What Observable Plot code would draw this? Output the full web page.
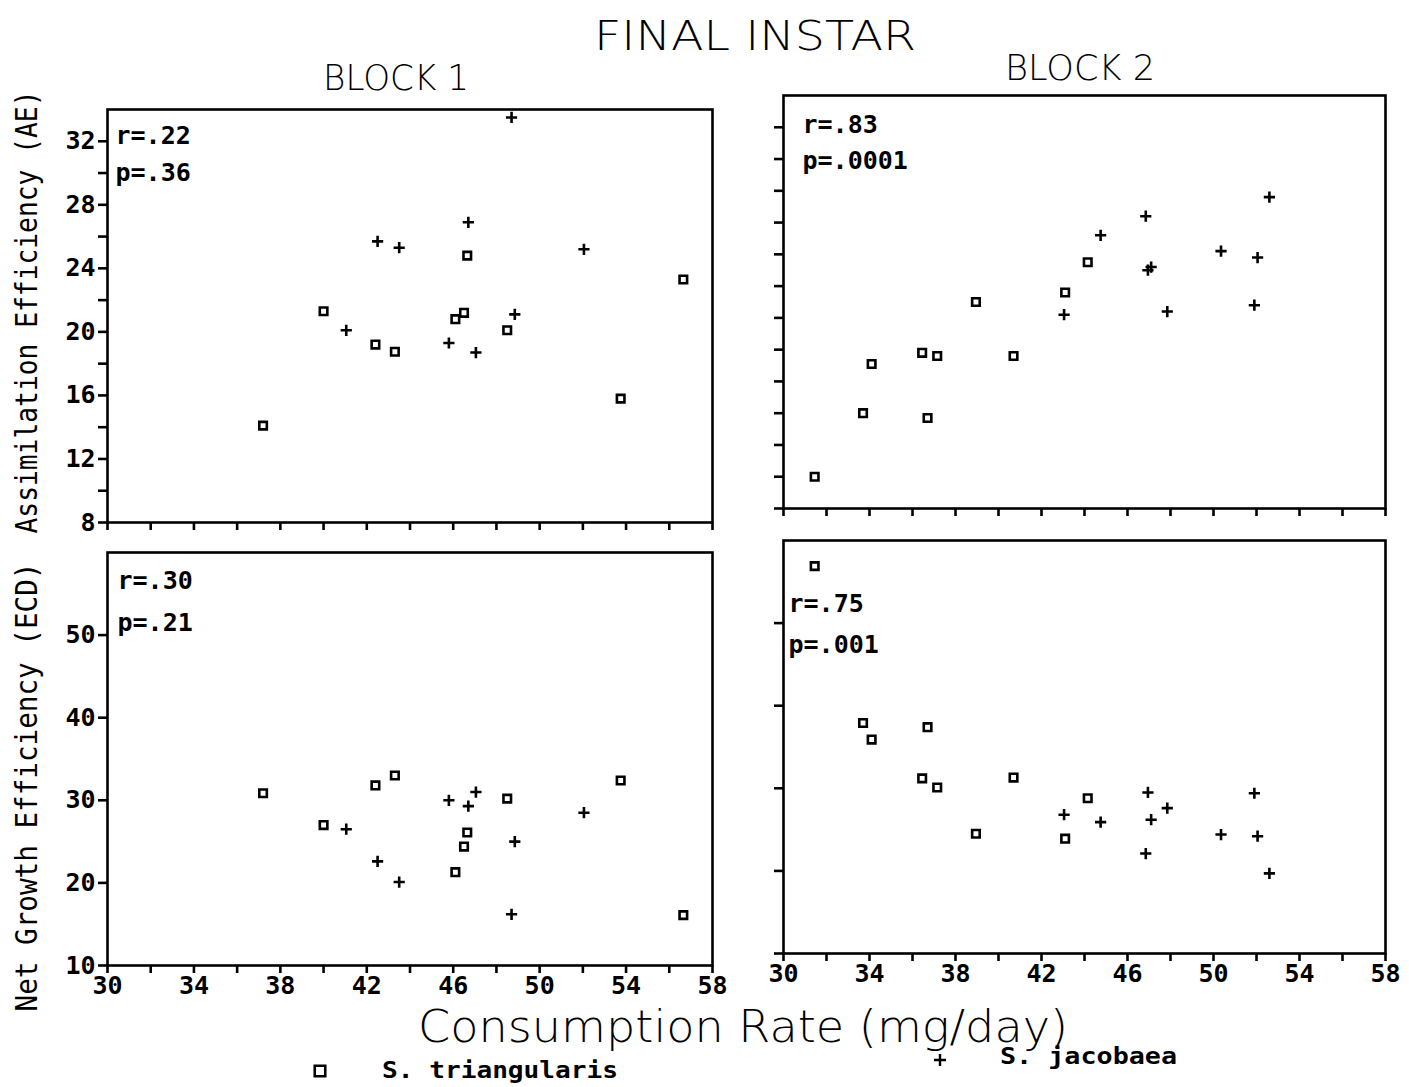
<!DOCTYPE html>
<html>
<head>
<meta charset="utf-8">
<script src="https://cdn.jsdelivr.net/npm/d3@7"></script>
<script src="https://cdn.jsdelivr.net/npm/@observablehq/plot@0.6"></script>
<style>
  html, body { margin: 0; padding: 0; background: white; }
  #fig { position: relative; width: 1409px; height: 1087px; background: white; overflow: hidden; }
  #fig svg { position: absolute; overflow: visible; }
</style>
</head>
<body>
<div id="fig"></div>
<script>
// Consumption rate (mg/day), assimilation efficiency (AE) and net growth
// efficiency (ECD) for each block and species, final instar.

// Block 1 — S. triangularis
const rate1Tri = [37.2, 40.0, 42.4, 43.3, 46.1, 46.5, 46.65, 48.5, 53.75, 56.65];
const ae1Tri   = [14.1, 21.3, 19.2, 18.75, 20.8, 21.2, 24.8, 20.1, 15.8, 23.3];
const ecd1Tri  = [30.85, 27.0, 31.8, 33.0, 21.3, 24.4, 26.1, 30.2, 32.4, 16.1];

// Block 1 — S. jacobaea
const rate1Jac = [41.05, 42.5, 43.5, 45.8, 46.7, 47.05, 48.7, 48.85, 52.05];
const ae1Jac   = [20.1, 25.7, 25.3, 19.3, 26.9, 18.7, 33.5, 21.1, 25.2];
const ecd1Jac  = [26.5, 22.6, 20.1, 30.0, 29.3, 31.0, 16.2, 25.0, 28.5];

// Block 2 — S. triangularis
const rate2Tri = [31.45, 33.7, 34.1, 36.45, 36.7, 37.15, 38.95, 40.7, 43.1, 44.15];
const ae2Tri   = [10.0, 14.0, 17.1, 17.8, 13.7, 17.6, 21.0, 17.6, 21.6, 23.5];
const ecd2Tri  = [56.9, 37.9, 35.9, 31.2, 37.4, 30.1, 24.5, 31.3, 23.9, 28.8];

// Block 2 — S. jacobaea
const rate2Jac = [43.05, 44.75, 46.85, 46.95, 47.1, 47.85, 50.35, 51.9, 52.05, 52.6];
const ae2Jac   = [20.2, 25.2, 26.4, 23.0, 23.2, 20.4, 24.2, 20.8, 23.8, 27.6];
const ecd2Jac  = [26.8, 25.9, 22.1, 29.5, 26.2, 27.6, 24.4, 29.4, 24.2, 19.7];

// Correlation statistics printed in each panel
const statsAE  = [["r=.22", "p=.36"], ["r=.83", "p=.0001"]];
const statsECD = [["r=.30", "p=.21"], ["r=.75", "p=.001"]];

// Axis ticks and labels
const xTicks    = d3.range(30, 59, 2);
const xLabels   = [30, 34, 38, 42, 46, 50, 54, 58];
const aeTicks   = d3.range(8, 33, 2);
const aeLabels  = [8, 12, 16, 20, 24, 28, 32];
const ecdTicks  = [10, 20, 30, 40, 50];
const ecdLabels = [10, 20, 30, 40, 50];

const rows = (rate, ae, ecd) => rate.map((r, i) => ({rate: r, ae: ae[i], ecd: ecd[i]}));
const blocks = [
  {tri: rows(rate1Tri, ae1Tri, ecd1Tri), jac: rows(rate1Jac, ae1Jac, ecd1Jac)},
  {tri: rows(rate2Tri, ae2Tri, ecd2Tri), jac: rows(rate2Jac, ae2Jac, ecd2Jac)}
];

const fig = document.getElementById("fig");
const M = {left: 60, right: 10, top: 10, bottom: 40};
const MONO = "'DejaVu Sans Mono', 'Liberation Mono', monospace";

// One scatter panel: frame position on the page, y measure and its axis
function panel({block, measure, frame, yDomain, yTicks, yLabels, showY, showX, stats, statPos}) {
  const data = blocks[block];
  const w = frame.right - frame.left, h = frame.bottom - frame.top;
  const chart = Plot.plot({
    width: w + M.left + M.right,
    height: h + M.top + M.bottom,
    marginLeft: M.left, marginRight: M.right, marginTop: M.top, marginBottom: M.bottom,
    x: {domain: [30, 58]},
    y: {domain: yDomain},
    style: {fontFamily: MONO, fontSize: "25px", fontWeight: "bold", color: "black", background: "transparent", overflow: "visible"},
    marks: [
      Plot.frame({strokeWidth: 2.6}),
      Plot.axisX({ticks: xTicks, tickFormat: d => (showX && xLabels.includes(d)) ? String(d) : "",
                  tickSize: 8, tickPadding: 3, strokeWidth: 2.6, label: null}),
      Plot.axisY({ticks: yTicks, tickFormat: d => (showY && yLabels.includes(d)) ? String(d) : "",
                  tickSize: 9, tickPadding: 3, strokeWidth: 2.6, label: null}),
      Plot.dot(data.tri, {x: "rate", y: measure, symbol: "square2", r: 4.8, stroke: "black", strokeWidth: 2.6}),
      Plot.dot(data.jac, {x: "rate", y: measure, symbol: "plus", r: 3.7, stroke: "black", strokeWidth: 2.6}),
      Plot.text([stats[0]], {frameAnchor: "top-left", textAnchor: "start", lineAnchor: "bottom",
                             dx: statPos.dx, dy: statPos.r, fontSize: 25, fontWeight: "bold"}),
      Plot.text([stats[1]], {frameAnchor: "top-left", textAnchor: "start", lineAnchor: "bottom",
                             dx: statPos.dx, dy: statPos.p, fontSize: 25, fontWeight: "bold"})
    ]
  });
  chart.style.left = (frame.left - M.left) + "px";
  chart.style.top = (frame.top - M.top) + "px";
  fig.appendChild(chart);
}

panel({block: 0, measure: "ae", frame: {left: 107, right: 712, top: 109, bottom: 522},
       yDomain: [8, 34], yTicks: aeTicks, yLabels: aeLabels, showY: true, showX: false,
       stats: statsAE[0], statPos: {dx: 8, r: 34, p: 71}});
panel({block: 1, measure: "ae", frame: {left: 783, right: 1385, top: 95, bottom: 508},
       yDomain: [8, 34], yTicks: aeTicks, yLabels: aeLabels, showY: false, showX: false,
       stats: statsAE[1], statPos: {dx: 19, r: 37, p: 73}});
panel({block: 0, measure: "ecd", frame: {left: 107, right: 712, top: 552, bottom: 965},
       yDomain: [10, 60], yTicks: ecdTicks, yLabels: ecdLabels, showY: true, showX: true,
       stats: statsECD[0], statPos: {dx: 10, r: 36, p: 78}});
panel({block: 1, measure: "ecd", frame: {left: 783, right: 1385, top: 540, bottom: 953},
       yDomain: [10, 60], yTicks: ecdTicks, yLabels: ecdLabels, showY: false, showX: true,
       stats: statsECD[1], statPos: {dx: 5, r: 71, p: 112}});

// Titles, axis titles and the species key
const overlay = d3.create("svg")
  .attr("width", 1409).attr("height", 1087)
  .style("left", "0px").style("top", "0px").style("pointer-events", "none");

function label(text, {x, y, size, width, family = MONO, weight = "normal", rotate = 0, anchor = "middle"}) {
  const t = overlay.append("text")
    .attr("transform", `translate(${x},${y}) rotate(${rotate})`)
    .attr("text-anchor", anchor)
    .attr("font-family", family)
    .attr("font-size", size)
    .attr("font-weight", weight)
    .attr("fill", "black")
    .text(text);
  if (width) t.attr("textLength", width).attr("lengthAdjust", "spacingAndGlyphs");
}

const THIN = "'DejaVu Sans', 'Liberation Sans', sans-serif";
label("FINAL INSTAR", {x: 755, y: 50, size: 41, width: 322, family: THIN, weight: 200});
label("BLOCK 1", {x: 396, y: 90, size: 36, width: 146, family: THIN, weight: 200});
label("BLOCK 2", {x: 1080, y: 80, size: 36, width: 150, family: THIN, weight: 200});
label("Consumption Rate (mg/day)", {x: 743, y: 1042, size: 44, width: 650, family: THIN, weight: 200});
label("Assimilation Efficiency (AE)", {x: 37, y: 312, size: 30, width: 443, rotate: -90});
label("Net Growth Efficiency (ECD)", {x: 37, y: 787, size: 30, width: 449, rotate: -90});

// species key
overlay.append("path")
  .attr("transform", "translate(320,1071)")
  .attr("d", d3.symbol(d3.symbolSquare2, 140)())
  .attr("fill", "none").attr("stroke", "black").attr("stroke-width", 2.6);
label("S. triangularis", {x: 382, y: 1078, size: 23, width: 236, weight: "bold", anchor: "start"});
overlay.append("path")
  .attr("transform", "translate(940,1060)")
  .attr("d", d3.symbol(d3.symbolPlus, 50)())
  .attr("fill", "none").attr("stroke", "black").attr("stroke-width", 2.4);
label("S. jacobaea", {x: 1000, y: 1064, size: 23, width: 177, weight: "bold", anchor: "start"});

fig.appendChild(overlay.node());
</script>
</body>
</html>
